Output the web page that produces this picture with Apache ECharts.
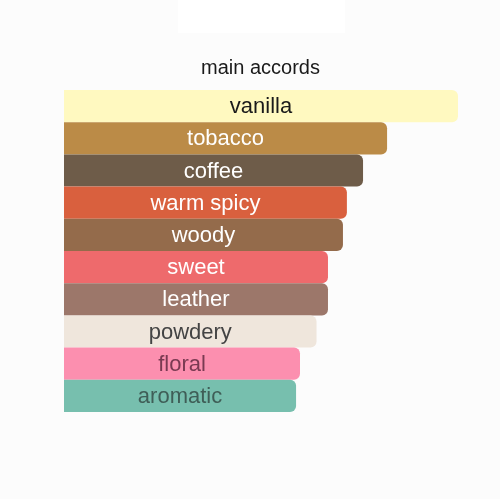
<!DOCTYPE html>
<html><head><meta charset="utf-8">
<script src="https://cdn.jsdelivr.net/npm/echarts@6/dist/echarts.min.js"></script>
<style>html,body{margin:0;padding:0;background:#fcfcfc;}#c{width:500px;height:499px;}</style>
</head><body><div id="c"></div>
<script>
var categories = ['vanilla','tobacco','coffee','warm spicy','woody','sweet','leather','powdery','floral','aromatic'];
var values = [100, 82.0, 75.9, 71.8, 70.8, 67.0, 67.0, 64.1, 59.9, 58.9];
var barColors = ['#fff9c0','#bb8b47','#6e5c49','#d9603e','#946b4b','#ee6a6c','#9c776a','#efe6dc','#fc8faf','#77bfae'];
var textColors = ['#1a1a1a','#ffffff','#ffffff','#ffffff','#ffffff','#ffffff','#ffffff','#444444','#7a3a52','#3f5e57'];

var chart = echarts.init(document.getElementById('c'));
chart.setOption({
  backgroundColor: '#fcfcfc',
  animation: false,
  graphic: [{type:'rect', shape:{x:178,y:0,width:167,height:33}, style:{fill:'#ffffff'}, z:-1}],
  title: {text:'main accords', left: 201, top: 58, padding: 0,
    textStyle:{fontFamily:'Liberation Sans, Arial', fontSize:20, fontWeight:'normal', color:'#1a1a1a'}},
  grid: {left:64, right:42, top:90, height:322},
  xAxis: {type:'value', min:0, max:100, show:false},
  yAxis: {type:'category', data:categories, inverse:true, show:false},
  series: [{
    type:'bar', barCategoryGap:'0%',
    data: values.map(function(v,i){
      return {value:v, itemStyle:{color:barColors[i], borderRadius:[0,6,6,0]},
        label:{color:textColors[i]}};
    }),
    label: {show:true, position:'inside', formatter:'{b}', offset:[0,1],
      fontFamily:'Liberation Sans, Arial', fontSize:22}
  }]
});
</script></body></html>
